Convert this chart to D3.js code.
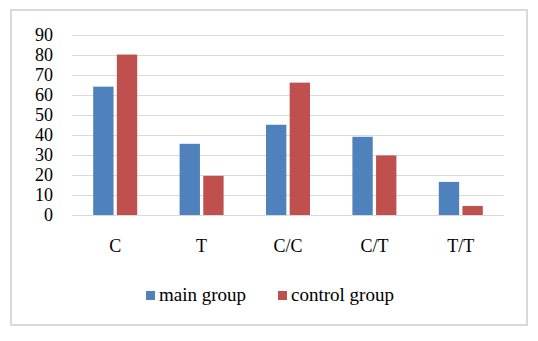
<!DOCTYPE html>
<html>
<head>
<meta charset="utf-8">
<script src="https://cdn.jsdelivr.net/npm/d3@7"></script>
<style>
  body { margin: 0; background: #fff; }
  svg text { font-family: "Liberation Serif", "DejaVu Serif", serif !important; fill: #000; }
</style>
</head>
<body>
<svg id="chart" width="538" height="341"></svg>
<script>
const categories = ["C", "T", "C/C", "C/T", "T/T"];
const seriesNames = ["main group", "control group"];
const mainGroup = [64, 35.5, 45, 39, 16.5];
const controlGroup = [80, 19.5, 66, 29.7, 4.5];
const yTicks = [0, 10, 20, 30, 40, 50, 60, 70, 80, 90];
const colors = ["#4f81bd", "#c0504d"];

const width = 538, height = 341;
const margin = {top: 34, right: 34, bottom: 126, left: 72};
const fontSize = 18;

const svg = d3.select("#chart");

// outer frame
svg.append("rect")
    .attr("x", 11).attr("y", 10)
    .attr("width", 516).attr("height", 315)
    .attr("fill", "none")
    .attr("stroke", "#d9d9d9")
    .attr("stroke-width", 2);

const x = d3.scaleBand()
    .domain(categories)
    .range([margin.left, width - margin.right]);

const y = d3.scaleLinear()
    .domain([0, 90])
    .range([215, 34.5]);

// gridlines
svg.append("g")
    .selectAll("line")
    .data(yTicks)
    .join("line")
    .attr("x1", margin.left)
    .attr("x2", width - margin.right)
    .attr("y1", d => Math.round(y(d)) + 0.5)
    .attr("y2", d => Math.round(y(d)) + 0.5)
    .attr("stroke", "#d9d9d9")
    .attr("stroke-width", 1);

// y axis labels
const yAxis = svg.append("g")
    .attr("transform", `translate(${margin.left},0)`)
    .call(d3.axisLeft(y).tickValues(yTicks).tickSize(0).tickPadding(19));
yAxis.select(".domain").remove();
yAxis.selectAll("text")
    .style("font-size", fontSize + "px")
    .attr("fill", "#000");

// x axis labels
const xAxis = svg.append("g")
    .attr("transform", `translate(0,${y(0)})`)
    .call(d3.axisBottom(x).tickSize(0).tickPadding(24));
xAxis.select(".domain").remove();
xAxis.selectAll("text")
    .style("font-size", fontSize + "px")
    .attr("fill", "#000");

const xSub = d3.scaleBand()
    .domain(seriesNames)
    .range([0, 44])
    .paddingInner(0.14);

const rows = categories.map((c, i) => ({cat: c, values: [mainGroup[i], controlGroup[i]]}));

svg.append("g")
    .selectAll("g")
    .data(rows)
    .join("g")
    .attr("transform", d => `translate(${x(d.cat) + x.bandwidth() / 2 - 22},0)`)
    .selectAll("rect")
    .data(d => d.values.map((v, j) => ({key: seriesNames[j], value: v, j})))
    .join("rect")
    .attr("x", d => xSub(d.key))
    .attr("y", d => y(d.value))
    .attr("width", xSub.bandwidth())
    .attr("height", d => y(0) - y(d.value))
    .attr("fill", d => colors[d.j]);

// legend
const legendX = [146, 278];
const legend = svg.append("g");
seriesNames.forEach((name, i) => {
    const g = legend.append("g").attr("transform", `translate(${legendX[i]},291)`);
    g.append("rect")
        .attr("width", 9).attr("height", 9)
        .attr("fill", colors[i]);
    g.append("text")
        .attr("x", 13)
        .attr("y", 10)
        .style("font-size", "19px")
        .text(name);
});
</script>
</body>
</html>
